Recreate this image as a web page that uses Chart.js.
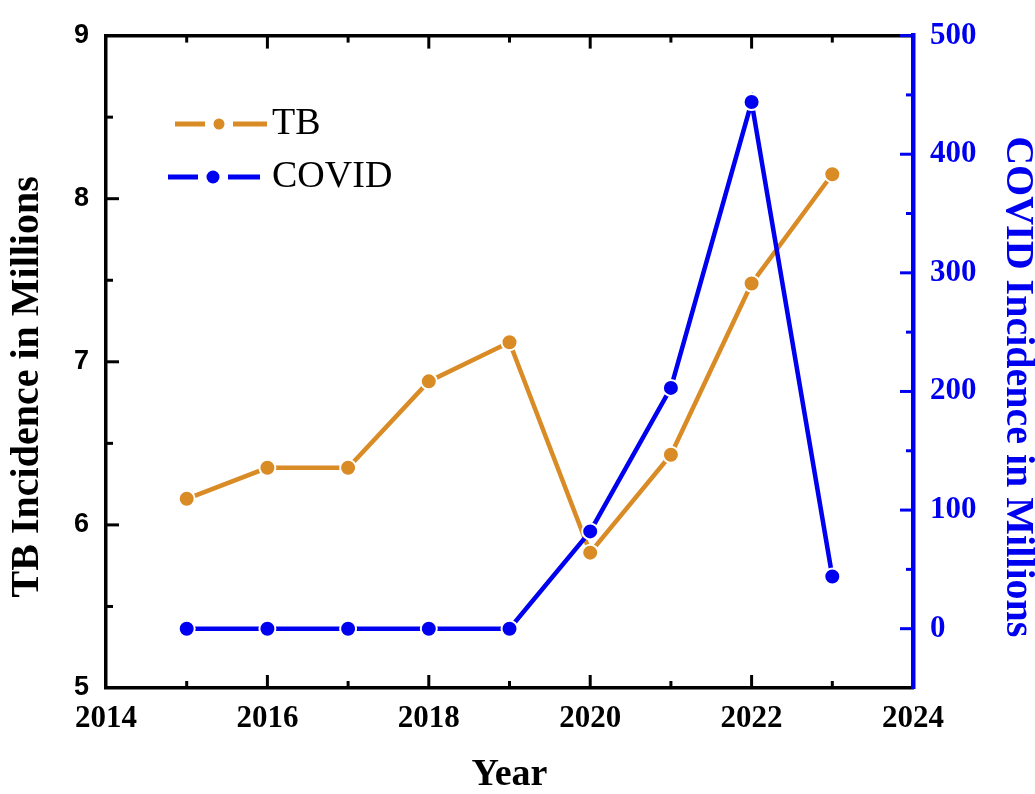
<!DOCTYPE html>
<html><head><meta charset="utf-8">
<script src="https://cdn.jsdelivr.net/npm/chart.js@4.4.1/dist/chart.umd.min.js"></script>
<style>html,body{margin:0;padding:0;background:#fff;}canvas{display:block;}</style>
</head><body>
<canvas id="c" width="1035" height="794" style="width:1035px;height:794px"></canvas>
<script>
// ---- data ----
const years = [2015, 2016, 2017, 2018, 2019, 2020, 2021, 2022, 2023];
const tbValues = [6.16, 6.35, 6.35, 6.88, 7.12, 5.83, 6.43, 7.48, 8.15];
const covidValues = [0, 0, 0, 0, 0, 82, 203, 444, 44];
const seriesNames = ['TB', 'COVID'];
const xTickValues = [2014, 2016, 2018, 2020, 2022, 2024];
const xMinorTicks = [2015, 2017, 2019, 2021, 2023];
const tbTickValues = [5, 6, 7, 8, 9];
const tbMinorTicks = [5.5, 6.5, 7.5, 8.5];
const covidTickValues = [0, 100, 200, 300, 400, 500];
const covidMinorTicks = [50, 150, 250, 350, 450];
const xTitle = 'Year';
const tbTitle = 'TB Incidence in Millions';
const covidTitle = 'COVID Incidence in Millions';

// ---- style ----
const ORANGE = '#D98B26';
const BLUE = '#0000F0';
const SERIF = "'Liberation Serif', 'Times New Roman', serif";
const SANS = "'Liberation Sans', Arial, sans-serif";
const NB = '\u00a0';

function makeIcon(color, d1a, d1b, m, r, d2a, d2b) {
  const c = document.createElement('canvas');
  c.width = 170; c.height = 18;
  const g = c.getContext('2d');
  g.strokeStyle = color; g.fillStyle = color; g.lineWidth = 5;
  g.beginPath(); g.moveTo(d1a, 9); g.lineTo(d1b, 9); g.moveTo(d2a, 9); g.lineTo(d2b, 9); g.stroke();
  g.beginPath(); g.arc(m, 9, r, 0, Math.PI * 2); g.fill();
  return c;
}
const legendIcons = [
  makeIcon(ORANGE, 73, 103, 117, 5.5, 131, 165),
  makeIcon(BLUE, 66, 96, 111, 6.5, 126, 158)
];

const innerTicks = {
  id: 'innerTicks',
  afterDraw(chart) {
    const {ctx, chartArea: a, scales} = chart;
    const MAJ = 13, MIN = 7;
    ctx.save();
    ctx.lineCap = 'butt';
    const seg = (x1, y1, x2, y2, color) => {
      ctx.beginPath(); ctx.strokeStyle = color; ctx.lineWidth = 3;
      ctx.moveTo(x1, y1); ctx.lineTo(x2, y2); ctx.stroke();
    };
    const xs = scales.x;
    xTickValues.forEach(v => {
      if (v === xs.min || v === xs.max) return;
      const p = xs.getPixelForValue(v);
      seg(p, a.bottom, p, a.bottom - MAJ, '#000');
      seg(p, a.top, p, a.top + MAJ, '#000');
    });
    xMinorTicks.forEach(v => {
      const p = xs.getPixelForValue(v);
      seg(p, a.bottom, p, a.bottom - MIN, '#000');
      seg(p, a.top, p, a.top + MIN, '#000');
    });
    tbTickValues.forEach(v => {
      if (v === scales.y.min || v === scales.y.max) return;
      const p = scales.y.getPixelForValue(v);
      seg(a.left, p, a.left + MAJ, p, '#000');
    });
    tbMinorTicks.forEach(v => {
      const p = scales.y.getPixelForValue(v);
      seg(a.left, p, a.left + MIN, p, '#000');
    });
    covidTickValues.forEach(v => {
      const p = scales.y1.getPixelForValue(v);
      seg(a.right, p, a.right - MAJ, p, BLUE);
    });
    covidMinorTicks.forEach(v => {
      const p = scales.y1.getPixelForValue(v);
      seg(a.right, p, a.right - MIN, p, BLUE);
    });
    ctx.restore();
  }
};

const setTicks = (vals) => (scale) => { scale.ticks = vals.map(v => ({value: v})); };

new Chart(document.getElementById('c'), {
  type: 'line',
  data: {
    datasets: [
      {
        label: seriesNames[0],
        data: years.map((yr, i) => ({x: yr, y: tbValues[i]})),
        yAxisID: 'y',
        borderColor: ORANGE, backgroundColor: ORANGE,
        borderWidth: 4.5,
        pointRadius: 8, pointBorderWidth: 2, pointBorderColor: '#fff', pointBackgroundColor: ORANGE,
        tension: 0, order: 1
      },
      {
        label: seriesNames[1],
        data: years.map((yr, i) => ({x: yr, y: covidValues[i]})),
        yAxisID: 'y1',
        borderColor: BLUE, backgroundColor: BLUE,
        borderWidth: 4.5,
        pointRadius: 8, pointBorderWidth: 2, pointBorderColor: '#fff', pointBackgroundColor: BLUE,
        tension: 0, order: 0
      }
    ]
  },
  options: {
    responsive: false,
    animation: false,
    devicePixelRatio: 1,
    layout: {padding: {top: 32, left: 0, right: 0, bottom: 0}},
    plugins: {
      tooltip: {enabled: false},
      legend: {
        position: 'chartArea',
        align: 'start',
        title: {display: true, text: ' ', font: {size: 10, lineHeight: 1}, padding: {top: 80, bottom: 0}},
        labels: {
          usePointStyle: true,
          pointStyleWidth: 132,
          boxHeight: 14,
          padding: 15,
          color: '#000',
          font: {family: SERIF, size: 38, lineHeight: 1},
          generateLabels: (chart) => chart.data.datasets.map((ds, i) => ({
            text: ds.label, pointStyle: legendIcons[i], datasetIndex: i,
            fillStyle: 'rgba(0,0,0,0)', strokeStyle: 'rgba(0,0,0,0)', lineWidth: 0,
            hidden: false, fontColor: '#000'
          }))
        }
      }
    },
    scales: {
      x: {
        type: 'linear', position: 'bottom', min: 2014, max: 2024,
        afterBuildTicks: setTicks(xTickValues),
        afterFit: (s) => { s.height = 106; },
        grid: {display: false, drawTicks: false},
        border: {display: true, color: '#000', width: 3.5},
        ticks: {autoSkip: false, maxRotation: 0, padding: 12, color: '#000',
          font: {family: SERIF, size: 31, weight: 'bold'}, callback: (v) => String(v)},
        title: {display: true, text: xTitle, color: '#000', padding: {top: 0, bottom: 0},
          font: {family: SERIF, size: 38, weight: 'bold', lineHeight: 1}}
      },
      x2: {
        type: 'linear', position: 'top', min: 2014, max: 2024,
        afterBuildTicks: setTicks(xTickValues),
        afterFit: (s) => { s.height = 0; },
        grid: {display: false, drawTicks: false},
        border: {display: true, color: '#000', width: 3.5},
        ticks: {display: false}
      },
      y: {
        type: 'linear', position: 'left', min: 5, max: 9,
        afterBuildTicks: setTicks(tbTickValues),
        afterFit: (s) => { s.width = 106; },
        grid: {display: false, drawTicks: false},
        border: {display: true, color: '#000', width: 3.5},
        ticks: {padding: 17, color: '#000', font: {family: SANS, size: 27, weight: 'bold'}},
        title: {display: true, text: tbTitle + NB.repeat(5), color: '#000', padding: {top: 8, bottom: 0},
          font: {family: SERIF, size: 40, weight: 'bold', lineHeight: 1}}
      },
      y1: {
        type: 'linear', position: 'right', min: -50, max: 500,
        afterBuildTicks: setTicks(covidTickValues),
        afterFit: (s) => { s.width = 122; },
        grid: {display: false, drawTicks: false},
        border: {display: true, color: BLUE, width: 4.5},
        ticks: {padding: 17, color: BLUE, font: {family: SERIF, size: 31, weight: 'bold'}},
        title: {display: true, text: NB.repeat(5) + covidTitle, color: BLUE, padding: {top: -2, bottom: 0},
          font: {family: SERIF, size: 40, weight: 'bold', lineHeight: 1}}
      }
    }
  },
  plugins: [innerTicks]
});
</script>
</body></html>
